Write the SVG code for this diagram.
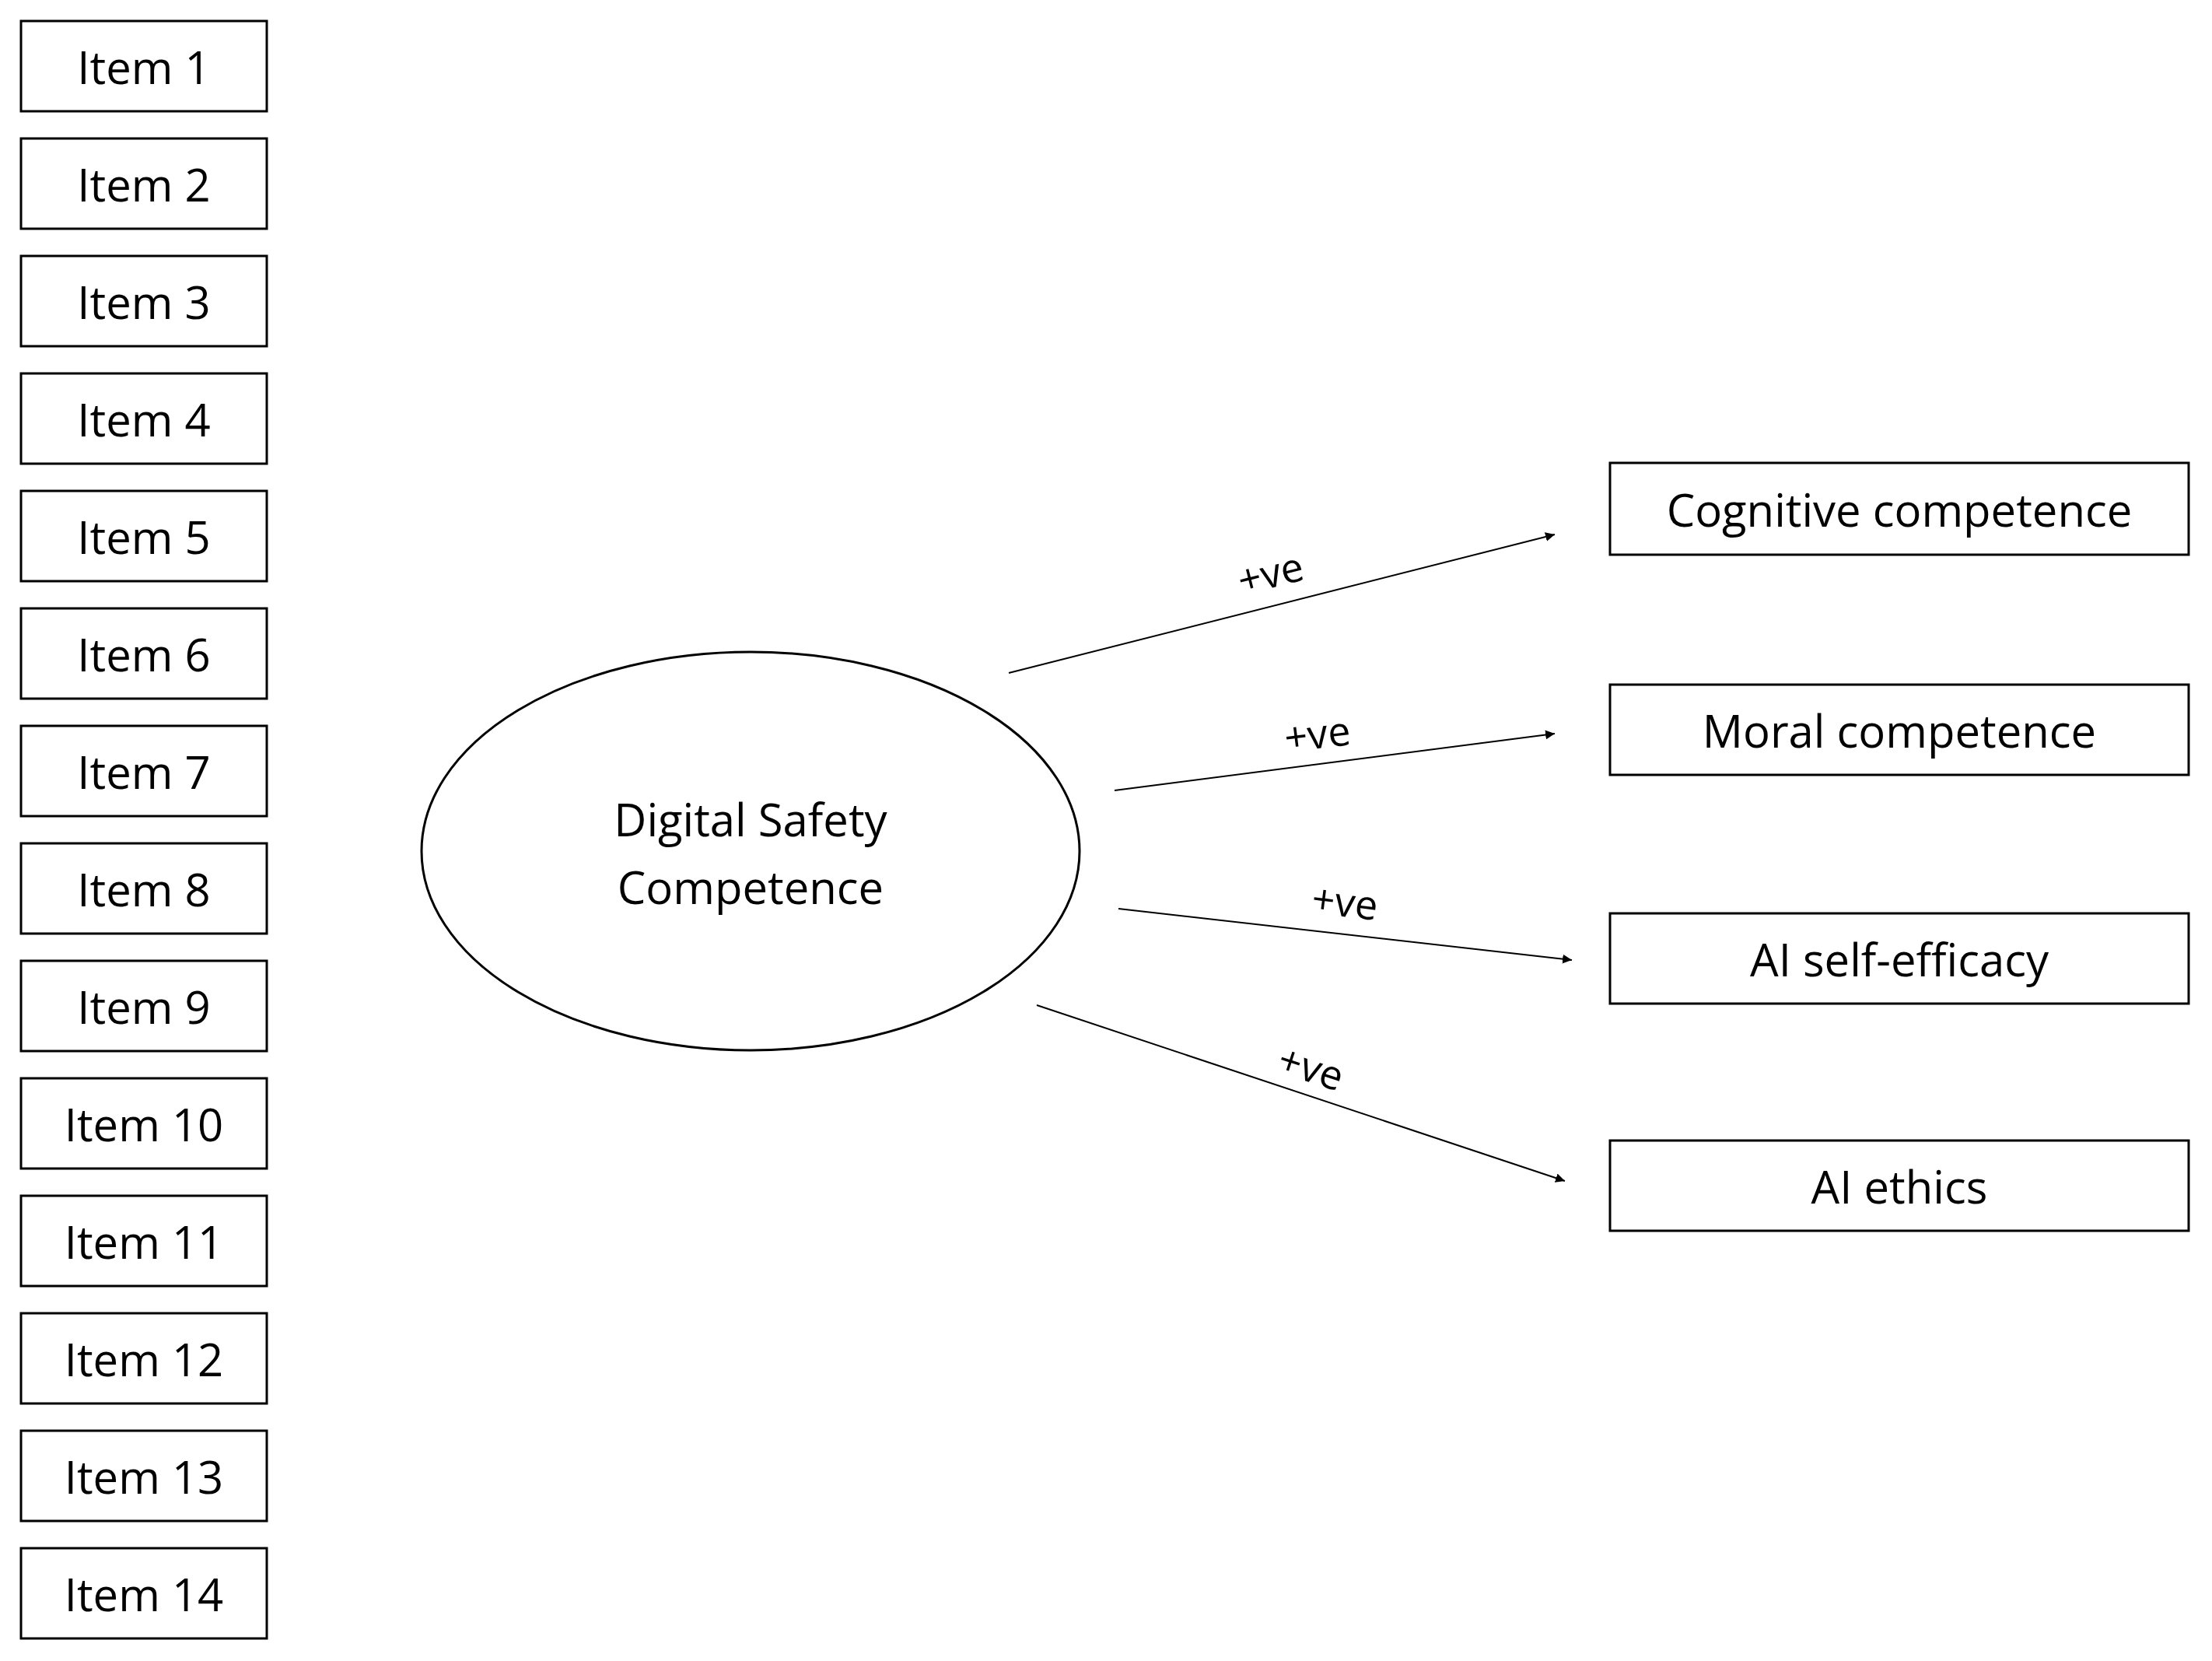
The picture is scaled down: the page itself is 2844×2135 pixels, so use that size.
<svg xmlns="http://www.w3.org/2000/svg" width="2844" height="2135" viewBox="0 0 2844 2135">
<style>
.b{fill:#fff;stroke:#000;stroke-width:3}
.t{font-family:"Open Sans","Liberation Sans",sans-serif;font-size:58px;fill:#000;text-anchor:middle;dominant-baseline:central}
.c{stroke:#000;stroke-width:2;fill:none;marker-end:url(#a)}
.l{font-family:"Open Sans","Liberation Sans",sans-serif;font-size:52px;fill:#000;text-anchor:middle}
</style>
<defs><marker id="a" viewBox="0 0 10 10" refX="10" refY="5" markerWidth="12" markerHeight="12" markerUnits="userSpaceOnUse" orient="auto"><path d="M0,0L10,5L0,10z" fill="#000"/></marker></defs>
<rect width="2844" height="2135" fill="#fff"/>
<g id="item1"><rect class="b" x="27" y="27" width="316" height="116"/><text class="t" x="185" y="85">Item 1</text></g>
<g id="item2"><rect class="b" x="27" y="178" width="316" height="116"/><text class="t" x="185" y="236">Item 2</text></g>
<g id="item3"><rect class="b" x="27" y="329" width="316" height="116"/><text class="t" x="185" y="387">Item 3</text></g>
<g id="item4"><rect class="b" x="27" y="480" width="316" height="116"/><text class="t" x="185" y="538">Item 4</text></g>
<g id="item5"><rect class="b" x="27" y="631" width="316" height="116"/><text class="t" x="185" y="689">Item 5</text></g>
<g id="item6"><rect class="b" x="27" y="782" width="316" height="116"/><text class="t" x="185" y="840">Item 6</text></g>
<g id="item7"><rect class="b" x="27" y="933" width="316" height="116"/><text class="t" x="185" y="991">Item 7</text></g>
<g id="item8"><rect class="b" x="27" y="1084" width="316" height="116"/><text class="t" x="185" y="1142">Item 8</text></g>
<g id="item9"><rect class="b" x="27" y="1235" width="316" height="116"/><text class="t" x="185" y="1293">Item 9</text></g>
<g id="item10"><rect class="b" x="27" y="1386" width="316" height="116"/><text class="t" x="185" y="1444">Item 10</text></g>
<g id="item11"><rect class="b" x="27" y="1537" width="316" height="116"/><text class="t" x="185" y="1595">Item 11</text></g>
<g id="item12"><rect class="b" x="27" y="1688" width="316" height="116"/><text class="t" x="185" y="1746">Item 12</text></g>
<g id="item13"><rect class="b" x="27" y="1839" width="316" height="116"/><text class="t" x="185" y="1897">Item 13</text></g>
<g id="item14"><rect class="b" x="27" y="1990" width="316" height="116"/><text class="t" x="185" y="2048">Item 14</text></g>
<g id="dsc"><ellipse class="b" cx="965" cy="1094" rx="423" ry="256"/><text class="t" x="965" y="1052">Digital Safety</text><text class="t" x="965" y="1139">Competence</text></g>
<g id="cog"><rect class="b" x="2070" y="595" width="744" height="118"/><text class="t" x="2442" y="654">Cognitive competence</text></g>
<g id="moral"><rect class="b" x="2070" y="880" width="744" height="116"/><text class="t" x="2442" y="938">Moral competence</text></g>
<g id="aise"><rect class="b" x="2070" y="1174" width="744" height="116"/><text class="t" x="2442" y="1232">AI self-efficacy</text></g>
<g id="aieth"><rect class="b" x="2070" y="1466" width="744" height="116"/><text class="t" x="2442" y="1524">AI ethics</text></g>
<g id="connectors">
<line class="c" x1="1297" y1="865" x2="1999" y2="687"/>
<line class="c" x1="1433" y1="1016" x2="1999" y2="943"/>
<line class="c" x1="1438" y1="1168" x2="2021" y2="1234"/>
<line class="c" x1="1333" y1="1292" x2="2012" y2="1518"/>
<text class="l" transform="translate(1638,755) rotate(-14)">+ve</text>
<text class="l" transform="translate(1696,962) rotate(-7)">+ve</text>
<text class="l" transform="translate(1727,1178) rotate(7)">+ve</text>
<text class="l" transform="translate(1680,1390) rotate(18)">+ve</text>
</g>
</svg>
